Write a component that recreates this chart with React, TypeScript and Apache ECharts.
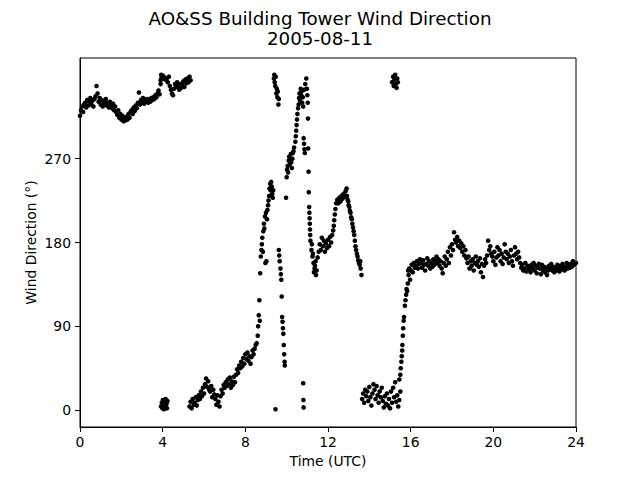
import React, { useEffect, useRef } from "react";
import * as echarts from "echarts";

// Sampling step (hours) used for the dense, regularly sampled stretches
const STEP = 0.05;

// 00:00–03:55 UTC, upper band
const earlyStart = 0.0;
const earlyDir = [
  316, 322, 326, 320, 328,
  330, 325, 333, 327, 331,
  335, 328, 332, 326, 334,
  337, 348, 340, 331, 335,
  328, 333, 326, 331, 329,
  334, 327, 330, 325, 331,
  328, 324, 329, 322, 326,
  320, 317, 322, 314, 318,
  312, 316, 310, 314, 311,
  315, 312, 318, 314, 320,
  322, 318, 325, 321, 327,
  324, 330, 341, 328, 333,
  331, 335, 329, 333, 332,
  334, 330, 333, 331, 335,
  333, 336, 334, 338, 336,
  340, 343, 339, 350, 357,
];

// wrap-around near 04 UTC (north)
const wrapHours = [3.9, 3.93, 3.97, 4.02, 4.07, 4.12, 3.92, 3.96, 3.99, 4.01, 4.04, 4.06, 4.09, 4.11, 4.14, 4.16, 4.19, 4.21, 4.23];
const wrapDir = [354, 360, 356, 359, 357, 355, 4, 8, 2, 11, 6, 1, 9, 5, 12, 3, 7, 2, 10];

// 04:12–05:21 upper band
const northStart = 4.2;
const northDir = [
  356, 352, 358, 348, 344,
  340, 338, 345, 350, 347,
  352, 348, 344, 350, 346,
  349, 353, 347, 355, 351,
  356, 352, 358, 354,
];

// 05:18–08:30 slow veer
const veerStart = 5.3;
const veerDir = [
  4, 9, 2, 12, 6,
  8, 14, 5, 11, 16,
  12, 20, 15, 24, 18,
  28, 34, 25, 31, 22,
  20, 26, 14, 22, 17,
  12, 6, 16, 9, 4,
  15, 22, 18, 27, 24,
  30, 26, 33, 28, 35,
  24, 31, 27, 36, 30,
  38, 44, 40, 48, 45,
  52, 47, 56, 50, 60,
  55, 62, 53, 58, 50,
  57, 64, 60, 66, 70,
];

// 08:33–11:09 rapidly changing, irregular
const swingHours = [
  8.55, 8.6, 8.62, 8.65, 8.68, 8.7, 8.72, 8.75, 8.78, 8.8, 8.82, 8.85, 8.87, 8.9, 8.92, 8.95, 8.97, 9.0, 9.02, 9.05,
  9.07, 9.1, 9.12, 9.15, 9.17, 9.2, 9.22, 9.25, 9.28, 9.3, 9.33, 9.35,
  9.38, 9.4, 9.42, 9.45, 9.47, 9.5, 9.52, 9.55, 9.57, 9.6, 9.62, 9.46,
  9.62, 9.64, 9.66, 9.7, 9.72, 9.74, 9.76, 9.78, 9.8, 9.82, 9.84, 9.86, 9.88, 9.9, 9.91,
  9.97, 10.0, 10.02, 10.05, 10.07, 10.1, 10.12, 10.15, 10.17, 10.2, 10.22, 10.25, 10.28, 10.3, 10.33, 10.36,
  10.42, 10.44, 10.46, 10.48, 10.5, 10.52, 10.55,
  10.58, 10.6, 10.62, 10.65, 10.68, 10.7, 10.72, 10.75, 10.78, 10.8, 10.85, 10.9, 10.95, 10.98, 11.0, 11.02, 11.03,
  10.82, 10.84, 10.86, 10.88,
  10.8, 10.81, 10.82,
  11.04, 11.06, 11.07, 11.09, 11.1, 11.11, 11.12, 11.13, 11.14, 11.15,
];
const swingDir = [
  72, 80, 90, 102, 118, 96, 147, 165, 172, 178, 185, 170, 192, 200, 195, 208, 158, 212, 160, 205,
  215, 220, 225, 230, 238, 243, 236, 245, 240, 232, 228, 236,
  356, 360, 352, 348, 358, 340, 345, 336, 342, 328, 334, 1,
  172, 166, 160, 152, 146, 140, 122, 100, 95, 88, 82, 70, 60, 52, 48,
  228, 250, 258, 262, 255, 268, 272, 264, 270, 275, 266, 260, 270, 276, 278, 282,
  288, 294, 300, 306, 312, 318, 324,
  328, 335, 340, 332, 345, 338, 342, 330, 336, 326, 344, 350, 356, 345, 338, 330, 313,
  292, 286, 280, 276,
  29, 11, 3,
  281, 256, 234, 218, 212, 206, 200, 194, 188, 182,
];

// 11:12–12:12
const noonStart = 11.2;
const noonDir = [
  172, 165, 158, 152, 160,
  150, 164, 170, 178, 172,
  185, 176, 182, 170, 179,
  174, 183, 176, 186, 180,
  188,
];
const noonExtraHours = [11.22, 11.27, 11.32, 11.37, 11.42, 12.25, 12.28, 12.3, 12.33, 12.36, 12.4];
const noonExtraDir = [178, 168, 148, 155, 145, 193, 198, 204, 210, 216, 222];

// 12:27–12:54 south-west spell
const swStart = 12.45;
const swDir = [226, 222, 228, 224, 230, 227, 232, 229, 235, 238];

// 12:55–13:37 backing
const backHours = [12.92, 12.95, 12.98, 13.0, 13.03, 13.06, 13.09, 13.12, 13.15, 13.18, 13.21, 13.24, 13.27, 13.3, 13.33, 13.36, 13.4, 13.43, 13.46, 13.5, 13.53, 13.56, 13.58, 13.62];
const backDir = [230, 226, 224, 220, 218, 214, 212, 207, 205, 200, 196, 192, 188, 182, 176, 172, 168, 165, 161, 158, 156, 160, 152, 145];

// 13:39–15:30 northerly
const northerlyStart = 13.65;
const northerlyDir = [
  12, 18, 8, 22, 15,
  20, 10, 25, 14, 5,
  18, 28, 22, 12, 26,
  16, 8, 20, 14, 24,
  10, 3, 15, 7, 18,
  5, 12, 2, 20, 8,
  24, 14, 30, 9, 16,
  4, 11, 20,
];
const northerlyTopHours = [15.1, 15.15, 15.18, 15.22, 15.25, 15.28, 15.32, 15.35, 15.38];
const northerlyTopDir = [352, 358, 348, 355, 360, 350, 346, 356, 352];

// 15:27–15:58 veer to south
const shiftHours = [15.45, 15.5, 15.52, 15.55, 15.57, 15.59, 15.6, 15.62, 15.64, 15.66, 15.68, 15.72, 15.75, 15.78, 15.8, 15.83, 15.86, 15.88, 15.9, 15.93, 15.97];
const shiftDir = [33, 38, 45, 52, 58, 64, 70, 80, 88, 96, 100, 112, 118, 124, 130, 128, 136, 150, 145, 152, 140];

// 16:00–24:00 southerly
const eveningStart = 16.0;
const eveningDir = [
  150, 156, 148, 158, 153,
  155, 160, 152, 157, 162,
  158, 153, 161, 156, 150,
  157, 163, 155, 160, 152,
  158, 154, 162, 156, 160,
  165, 158, 162, 155, 160,
  152, 147, 158, 165, 155,
  162, 170, 158, 175, 166,
  178, 172, 191, 183, 180,
  186, 176, 182, 174, 179,
  170, 176, 166, 172, 163,
  158, 165, 152, 160, 155,
  162, 150, 158, 165, 156,
  160, 154, 163, 148, 157,
  143, 155, 162, 158, 166,
  182, 172, 176, 168, 165,
  160, 170, 156, 164, 175,
  166, 172, 160, 168, 157,
  164, 178, 170, 162, 168,
  158, 165, 172, 160, 155,
  166, 175, 168, 162, 170,
  164, 158, 153, 156, 150,
  152, 158, 149, 155, 151,
  154, 148, 156, 152, 158,
  150, 155, 147, 153, 157,
  152, 146, 156, 150, 154,
  148, 153, 145, 150, 155,
  152, 157, 150, 154, 148,
  153, 150, 156, 152, 149,
  155, 151, 157, 153, 150,
  154, 158, 152, 156, 153,
  157, 154, 160, 156, 158,
  158,
];

const yTicks = [0, 90, 180, 270];

const FONT = "DejaVu Sans";

function regular(start: number, values: number[]): number[][] {
  return values.map((v, i) => [+(start + i * STEP).toFixed(3), v]);
}
function paired(hours: number[], values: number[]): number[][] {
  return hours.map((h, i) => [h, values[i]]);
}

export default function App() {
  const ref = useRef<HTMLDivElement>(null);
  useEffect(() => {
    if (!ref.current) return;
    const chart = echarts.init(ref.current, undefined, { renderer: "svg" });
    const data = [
      ...regular(earlyStart, earlyDir),
      ...paired(wrapHours, wrapDir),
      ...regular(northStart, northDir),
      ...regular(veerStart, veerDir),
      ...paired(swingHours, swingDir),
      ...regular(noonStart, noonDir),
      ...paired(noonExtraHours, noonExtraDir),
      ...regular(swStart, swDir),
      ...paired(backHours, backDir),
      ...regular(northerlyStart, northerlyDir),
      ...paired(northerlyTopHours, northerlyTopDir),
      ...paired(shiftHours, shiftDir),
      ...regular(eveningStart, eveningDir),
    ];
    const labelStyle = { color: "#000", fontSize: 13.9, fontFamily: FONT };
    chart.setOption({
      animation: false,
      backgroundColor: "#fff",
      title: {
        text: "AO&SS Building Tower Wind Direction\n2005-08-11",
        left: "center",
        top: 3,
        textStyle: {
          fontFamily: FONT,
          fontSize: 18.3,
          fontWeight: "normal",
          color: "#000",
          lineHeight: 20,
        },
      },
      grid: {
        left: 80,
        right: 64,
        top: 58,
        bottom: 53,
        show: true,
        borderColor: "#000",
        borderWidth: 1,
        backgroundColor: "transparent",
      },
      xAxis: {
        type: "value",
        min: 0,
        max: 24,
        interval: 4,
        name: "Time (UTC)",
        nameLocation: "middle",
        nameGap: 27,
        nameMoveOverlap: false,
        nameTextStyle: labelStyle,
        axisLine: { show: true, onZero: false, lineStyle: { color: "#000", width: 1 } },
        axisTick: { show: true, length: 5, inside: false, lineStyle: { color: "#000", width: 1 } },
        axisLabel: { ...labelStyle, margin: 8, showMaxLabel: true, showMinLabel: true },
        splitLine: { show: false },
      },
      yAxis: {
        type: "value",
        min: -18,
        max: 378,
        name: "Wind Direction (°)",
        nameLocation: "middle",
        nameGap: 42,
        nameMoveOverlap: false,
        nameTextStyle: labelStyle,
        axisLine: { show: true, onZero: false, lineStyle: { color: "#000", width: 1 } },
        axisTick: { show: true, length: 5, inside: false, customValues: yTicks, lineStyle: { color: "#000", width: 1 } },
        axisLabel: { ...labelStyle, margin: 9, customValues: yTicks },
        splitLine: { show: false },
      },
      series: [
        {
          type: "scatter",
          data,
          symbol: "circle",
          symbolSize: 4.6,
          itemStyle: { color: "#000", opacity: 1 },
          silent: true,
        },
      ],
    });
    return () => chart.dispose();
  }, []);
  return (
    <div
      ref={ref}
      style={{ position: "fixed", left: 0, top: 0, width: 640, height: 480 }}
    />
  );
}
